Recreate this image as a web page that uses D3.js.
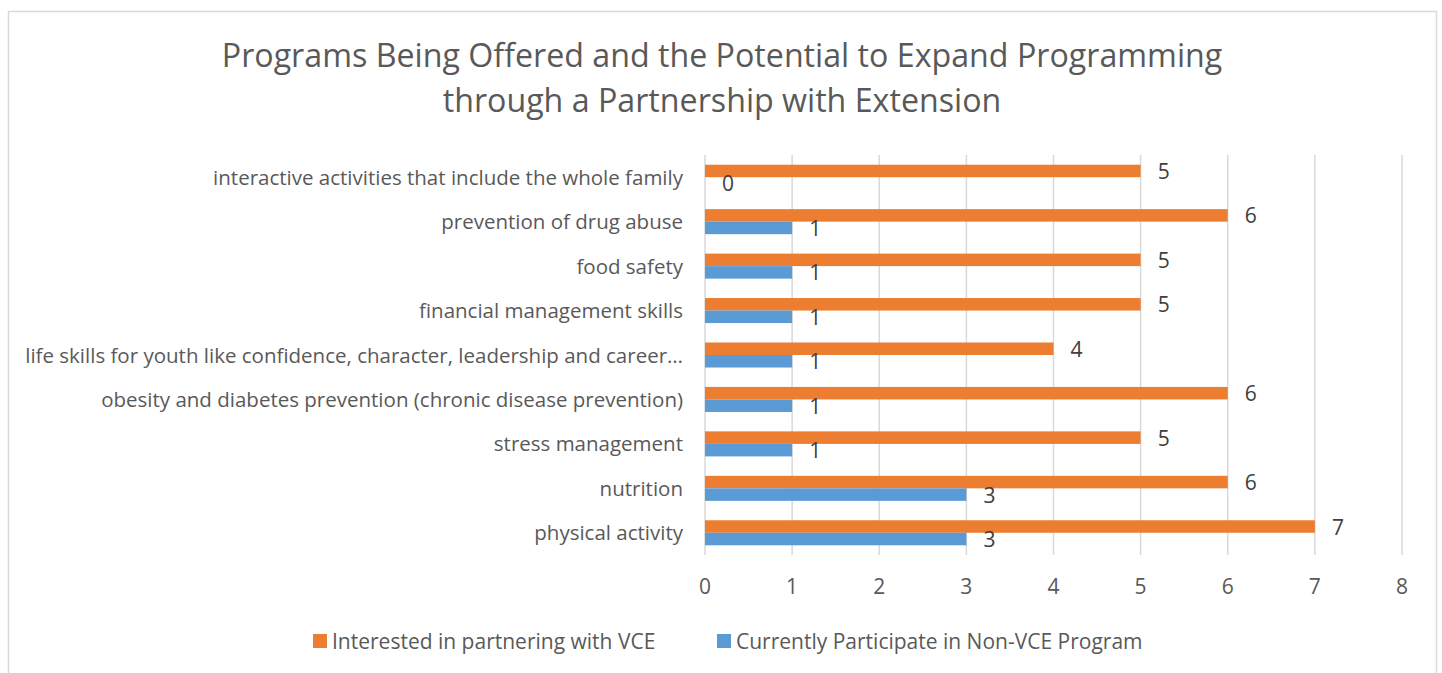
<!DOCTYPE html>
<html>
<head>
<meta charset="utf-8">
<script src="https://cdn.jsdelivr.net/npm/d3@7"></script>
<style>
  body { margin: 0; background: #fff; }
  text { font-family: "Open Sans", "Noto Sans", sans-serif; fill: #595959; }
</style>
</head>
<body>
<svg id="chart" width="1442" height="673"></svg>
<script>
// categories top to bottom
var categories = [
  "interactive activities that include the whole family",
  "prevention of drug abuse",
  "food safety",
  "financial management skills",
  "life skills for youth like confidence, character, leadership and career…",
  "obesity and diabetes prevention (chronic disease prevention)",
  "stress management",
  "nutrition",
  "physical activity"
];
var seriesNames = ["Interested in partnering with VCE", "Currently Participate in Non-VCE Program"];
var interested = [5, 6, 5, 5, 4, 6, 5, 6, 7];
var participate = [0, 1, 1, 1, 1, 1, 1, 3, 3];
var xTicks = [0, 1, 2, 3, 4, 5, 6, 7, 8];
var colors = ["#ed7d31", "#5b9bd5"];

var svg = d3.select("#chart");

// outer frame
svg.append("rect")
    .attr("x", 8.5).attr("y", 11.5)
    .attr("width", 1428).attr("height", 700)
    .attr("fill", "none")
    .attr("stroke", "#d9d9d9")
    .attr("stroke-width", 1.5);

// title
var title = svg.append("text")
    .attr("text-anchor", "middle")
    .style("font-size", "32.2px");
title.append("tspan").attr("x", 722).attr("y", 67)
    .text("Programs Being Offered and the Potential to Expand Programming");
title.append("tspan").attr("x", 722).attr("y", 112)
    .text("through a Partnership with Extension");

var x = d3.scaleLinear().domain([0, 8]).range([705, 1402]);
var y = d3.scaleBand().domain(categories).range([155, 555]).paddingInner(0.437).paddingOuter(0.2185);
var ySub = d3.scaleBand().domain([0, 1]).range([0, y.bandwidth()]);

// gridlines
svg.append("g")
    .selectAll("line")
    .data(xTicks)
    .join("line")
    .attr("x1", d => x(d)).attr("x2", d => x(d))
    .attr("y1", 155).attr("y2", 555)
    .attr("stroke", "#d9d9d9")
    .attr("stroke-width", 1.5);

// x tick labels
svg.append("g")
    .selectAll("text")
    .data(xTicks)
    .join("text")
    .attr("x", d => x(d))
    .attr("y", 594)
    .attr("text-anchor", "middle")
    .style("font-size", "21px")
    .text(d => d);

// category labels
svg.append("g")
    .selectAll("text")
    .data(categories)
    .join("text")
    .attr("x", 683)
    .attr("y", d => y(d) + y.bandwidth() / 2 + 7.5)
    .attr("text-anchor", "end")
    .style("font-size", "20.5px")
    .text(d => d);

var series = [interested, participate];

series.forEach(function(vals, s) {
    var g = svg.append("g");
    g.selectAll("rect")
        .data(vals)
        .join("rect")
        .attr("x", x(0))
        .attr("y", (d, i) => y(categories[i]) + ySub(s))
        .attr("width", d => x(d) - x(0))
        .attr("height", ySub.bandwidth())
        .attr("fill", colors[s]);
    g.selectAll("text")
        .data(vals)
        .join("text")
        .attr("x", d => x(d) + 17)
        .attr("y", (d, i) => y(categories[i]) + ySub(s) + ySub.bandwidth() / 2 + 8)
        .style("font-size", "21px")
        .style("fill", "#404040")
        .text(d => d);
});

// legend
var legendX = [313, 717];
var legend = svg.append("g")
    .selectAll("g")
    .data(seriesNames)
    .join("g")
    .attr("transform", (d, i) => "translate(" + legendX[i] + ",641)");
legend.append("rect")
    .attr("x", 0).attr("y", -7)
    .attr("width", 14).attr("height", 14)
    .attr("fill", (d, i) => colors[i]);
legend.append("text")
    .attr("x", 19).attr("y", 7.5)
    .style("font-size", "21px")
    .text(d => d);
</script>
</body>
</html>
